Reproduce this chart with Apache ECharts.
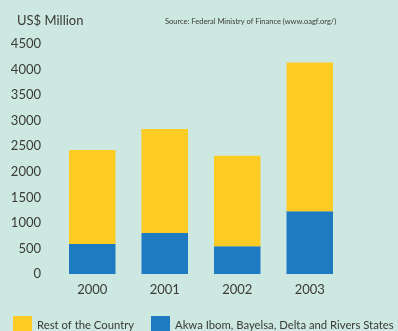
<!DOCTYPE html>
<html>
<head>
<meta charset="utf-8">
<script src="https://cdn.jsdelivr.net/npm/echarts@6/dist/echarts.min.js"></script>
<style>
  html, body { margin: 0; padding: 0; background: #cde8e0; }
  #chart { width: 398px; height: 331px; }
</style>
</head>
<body>
<div id="chart"></div>
<script>
// Oil revenue allocation, US$ million
const years = ['2000', '2001', '2002', '2003'];
const restOfCountry = [1840, 2035, 1770, 2910];
const oilStates = [585, 800, 545, 1230];
const yTicks = [0, 500, 1000, 1500, 2000, 2500, 3000, 3500, 4000, 4500];
const seriesNames = ['Rest of the Country', 'Akwa Ibom, Bayelsa, Delta and Rivers States'];

const textColor = '#3a3a3a';
const fontFamily = 'Lato, "Noto Sans", sans-serif';

const legendBase = {
  top: 316,
  padding: 0,
  itemWidth: 19, itemHeight: 19,
  icon: 'rect',
  textStyle: { fontSize: 11.3, color: textColor, fontFamily: fontFamily, padding: [5, 0, 0, 0] }
};

const chart = echarts.init(document.getElementById('chart'), null, { renderer: 'canvas' });
chart.setOption({
  backgroundColor: '#cde8e0',
  animation: false,
  textStyle: { fontFamily: fontFamily, color: textColor },
  title: [
    {
      text: 'US$ Million',
      left: 12, top: 9,
      textStyle: { fontSize: 13, fontWeight: 'normal', color: textColor, fontFamily: fontFamily }
    },
    {
      text: 'Source: Federal Ministry of Finance (www.oagf.org/)',
      left: 160, top: 13,
      textStyle: { fontSize: 7.5, fontWeight: 'normal', color: textColor, fontFamily: fontFamily }
    }
  ],
  legend: [
    Object.assign({}, legendBase, { left: 13, data: [seriesNames[0]] }),
    Object.assign({}, legendBase, { left: 151, data: [seriesNames[1]] })
  ],
  grid: { left: 56, right: 52, top: 44, bottom: 57, containLabel: false },
  xAxis: {
    type: 'category',
    data: years,
    axisLine: { show: false },
    axisTick: { show: false },
    axisLabel: { fontSize: 13, color: textColor, margin: 9, fontFamily: fontFamily }
  },
  yAxis: {
    type: 'value',
    min: yTicks[0],
    max: yTicks[yTicks.length - 1],
    interval: yTicks[1] - yTicks[0],
    splitLine: { show: false },
    axisLine: { show: false },
    axisTick: { show: false },
    axisLabel: {
      fontSize: 13, color: textColor, margin: 15, padding: [0, 0, 10, 0], fontFamily: fontFamily,
      formatter: (v) => String(v)
    }
  },
  series: [
    {
      name: seriesNames[1],
      type: 'bar', stack: 'total', barWidth: 46.5,
      itemStyle: { color: '#1e7bc1' },
      data: oilStates
    },
    {
      name: seriesNames[0],
      type: 'bar', stack: 'total', barWidth: 46.5,
      itemStyle: { color: '#fdcc24' },
      data: restOfCountry
    }
  ]
});
</script>
</body>
</html>
